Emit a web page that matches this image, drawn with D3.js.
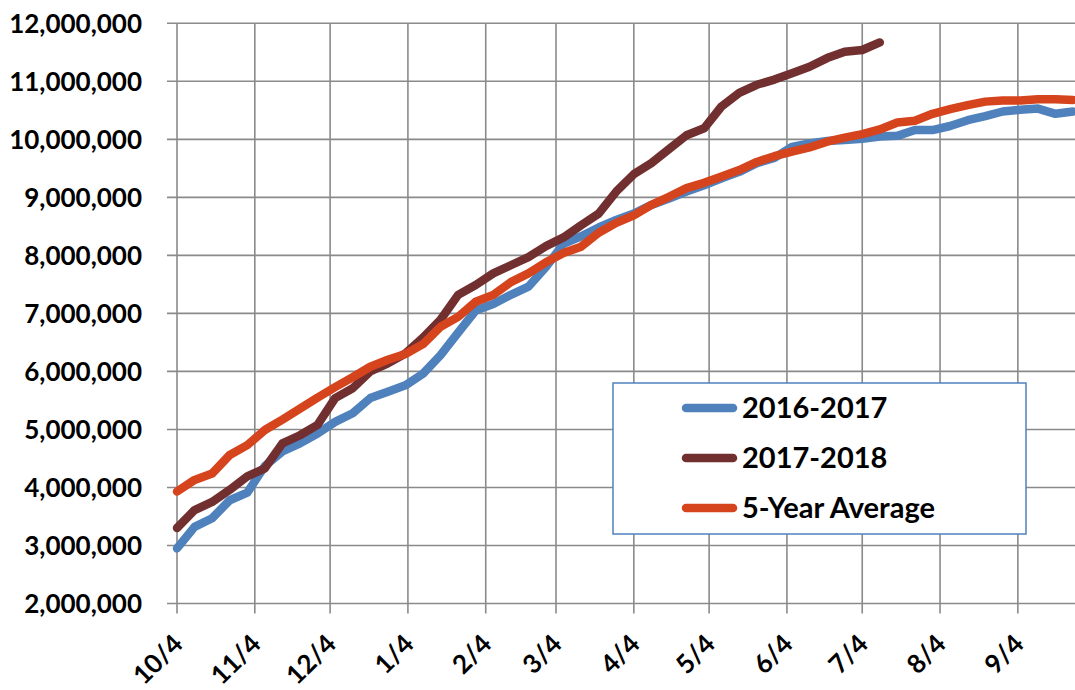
<!DOCTYPE html>
<html lang="en">

<head>
    <meta charset="UTF-8">
    <title>Weekly cumulative</title>
    <script src="https://d3js.org/d3.v7.min.js"></script>
    <style>
        body { margin: 0; background: #fff; }
        text { font-family: Lato, "Open Sans", sans-serif; font-weight: 700; fill: #000; }
    </style>
</head>

<body>
    <script>

        // weekly readings, first week starts 10/4
        var startDate = "2016-10-04";
        var seriesNames = ["2016-2017", "2017-2018", "5-Year Average"];
        var seriesColors = ["#4F81BD", "#722F2F", "#D5441C"];

        var season1617 = [2950000, 3320000, 3470000, 3780000, 3910000, 4370000, 4620000, 4760000, 4930000, 5130000,
            5280000, 5540000, 5650000, 5760000, 5960000, 6280000, 6670000, 7050000, 7160000, 7320000,
            7460000, 7800000, 8200000, 8330000, 8480000, 8610000, 8720000, 8870000, 8980000, 9100000,
            9210000, 9330000, 9440000, 9590000, 9680000, 9870000, 9930000, 9970000, 9990000, 10010000,
            10050000, 10060000, 10160000, 10160000, 10230000, 10330000, 10400000, 10480000, 10510000, 10530000,
            10440000, 10480000];

        var season1718 = [3300000, 3610000, 3750000, 3960000, 4190000, 4330000, 4760000, 4900000, 5080000, 5540000,
            5710000, 6000000, 6140000, 6310000, 6580000, 6890000, 7320000, 7490000, 7690000, 7830000,
            7970000, 8160000, 8310000, 8520000, 8720000, 9100000, 9400000, 9590000, 9830000, 10070000,
            10190000, 10570000, 10800000, 10940000, 11030000, 11140000, 11250000, 11400000, 11510000, 11540000,
            11670000];

        var fiveYearAvg = [3930000, 4130000, 4240000, 4560000, 4730000, 4990000, 5170000, 5360000, 5550000, 5730000,
            5900000, 6080000, 6200000, 6300000, 6470000, 6770000, 6940000, 7200000, 7320000, 7540000,
            7690000, 7880000, 8040000, 8150000, 8390000, 8560000, 8690000, 8870000, 9010000, 9160000,
            9250000, 9360000, 9470000, 9610000, 9710000, 9790000, 9860000, 9960000, 10030000, 10090000,
            10170000, 10290000, 10320000, 10440000, 10520000, 10590000, 10650000, 10670000, 10670000, 10690000,
            10690000, 10680000];

        var xTickLabels = ["10/4", "11/4", "12/4", "1/4", "2/4", "3/4", "4/4", "5/4", "6/4", "7/4", "8/4", "9/4"];
        var yTicks = [2000000, 3000000, 4000000, 5000000, 6000000, 7000000, 8000000, 9000000, 10000000, 11000000, 12000000];

        var width = 1075, height = 690;
        var plotLeft = 177, plotTop = 23.3, plotBottom = 603.5;

        var parse = d3.timeParse("%Y-%m-%d");
        var start = parse(startDate);
        var end = d3.timeYear.offset(start, 1);

        function weekDate(i) { return d3.timeWeek.offset(start, i); }

        // tick labels are month/day; months 10-12 belong to the first year
        var tickDates = xTickLabels.map(function (s) {
            var p = s.split("/");
            var m = +p[0], day = +p[1];
            var yr = m >= 10 ? start.getFullYear() : start.getFullYear() + 1;
            return new Date(yr, m - 1, day);
        });

        var x = d3.scaleTime()
            .domain([start, end])
            .range([plotLeft, plotLeft + 365 * 2.51]);

        var y = d3.scaleLinear()
            .domain([2000000, 12000000])
            .range([plotBottom, plotTop]);

        var svg = d3.select("body").append("svg")
            .attr("width", width)
            .attr("height", height);

        // gridlines
        svg.append("g")
            .selectAll("line")
            .data(yTicks)
            .enter()
                .append("line")
                .attr("x1", plotLeft - 10)
                .attr("x2", width)
                .attr("y1", function (d) { return y(d); })
                .attr("y2", function (d) { return y(d); })
                .attr("stroke", "#8a8a8a")
                .attr("stroke-width", 1.6);

        svg.append("g")
            .selectAll("line")
            .data(tickDates)
            .enter()
                .append("line")
                .attr("x1", function (d) { return x(d); })
                .attr("x2", function (d) { return x(d); })
                .attr("y1", plotTop)
                .attr("y2", plotBottom + 10)
                .attr("stroke", "#8a8a8a")
                .attr("stroke-width", 1.6);

        // axes (labels only, lines come from the grid)
        var yAxis = svg.append("g")
            .attr("transform", "translate(" + plotLeft + ",0)")
            .call(d3.axisLeft(y).tickValues(yTicks).tickFormat(d3.format(",")).tickSize(10).tickPadding(25));
        yAxis.select(".domain").remove();
        yAxis.selectAll(".tick line").remove();
        yAxis.selectAll("text")
            .attr("font-size", "26px")
            .attr("dy", "0.36em");

        var xAxis = svg.append("g")
            .attr("transform", "translate(0," + plotBottom + ")")
            .call(d3.axisBottom(x).tickValues(tickDates).tickFormat(function (d, i) { return xTickLabels[i]; }));
        xAxis.select(".domain").remove();
        xAxis.selectAll(".tick line").remove();
        xAxis.selectAll("text")
            .attr("font-size", "26px")
            .attr("x", 0)
            .attr("y", 0)
            .attr("dy", 0)
            .attr("text-anchor", "end")
            .attr("transform", "translate(7,42) rotate(-45)");

        // series
        var line = d3.line()
            .x(function (d, i) { return x(weekDate(i)); })
            .y(function (d) { return y(d); });

        var allSeries = [season1617, season1718, fiveYearAvg];

        svg.append("g")
            .selectAll("path")
            .data(allSeries)
            .enter()
                .append("path")
                .attr("d", line)
                .attr("fill", "none")
                .attr("stroke", function (d, i) { return seriesColors[i]; })
                .attr("stroke-width", 8.5)
                .attr("stroke-linejoin", "round")
                .attr("stroke-linecap", "round");

        // legend
        var legend = svg.append("g");
        legend.append("rect")
            .attr("x", 613)
            .attr("y", 383)
            .attr("width", 413)
            .attr("height", 151)
            .attr("fill", "#fff")
            .attr("stroke", "#4F81BD")
            .attr("stroke-width", 1.5);

        var items = legend.selectAll(".item")
            .data(seriesNames)
            .enter()
                .append("g")
                .attr("class", "item")
                .attr("transform", function (d, i) { return "translate(0," + (408 + i * 50) + ")"; });

        items.append("line")
            .attr("x1", 686)
            .attr("x2", 733)
            .attr("stroke", function (d, i) { return seriesColors[i]; })
            .attr("stroke-width", 8.5)
            .attr("stroke-linecap", "round");

        items.append("text")
            .attr("x", 742)
            .attr("y", 10)
            .attr("font-size", "29px")
            .text(function (d) { return d; });

    </script>

</body>

</html>
